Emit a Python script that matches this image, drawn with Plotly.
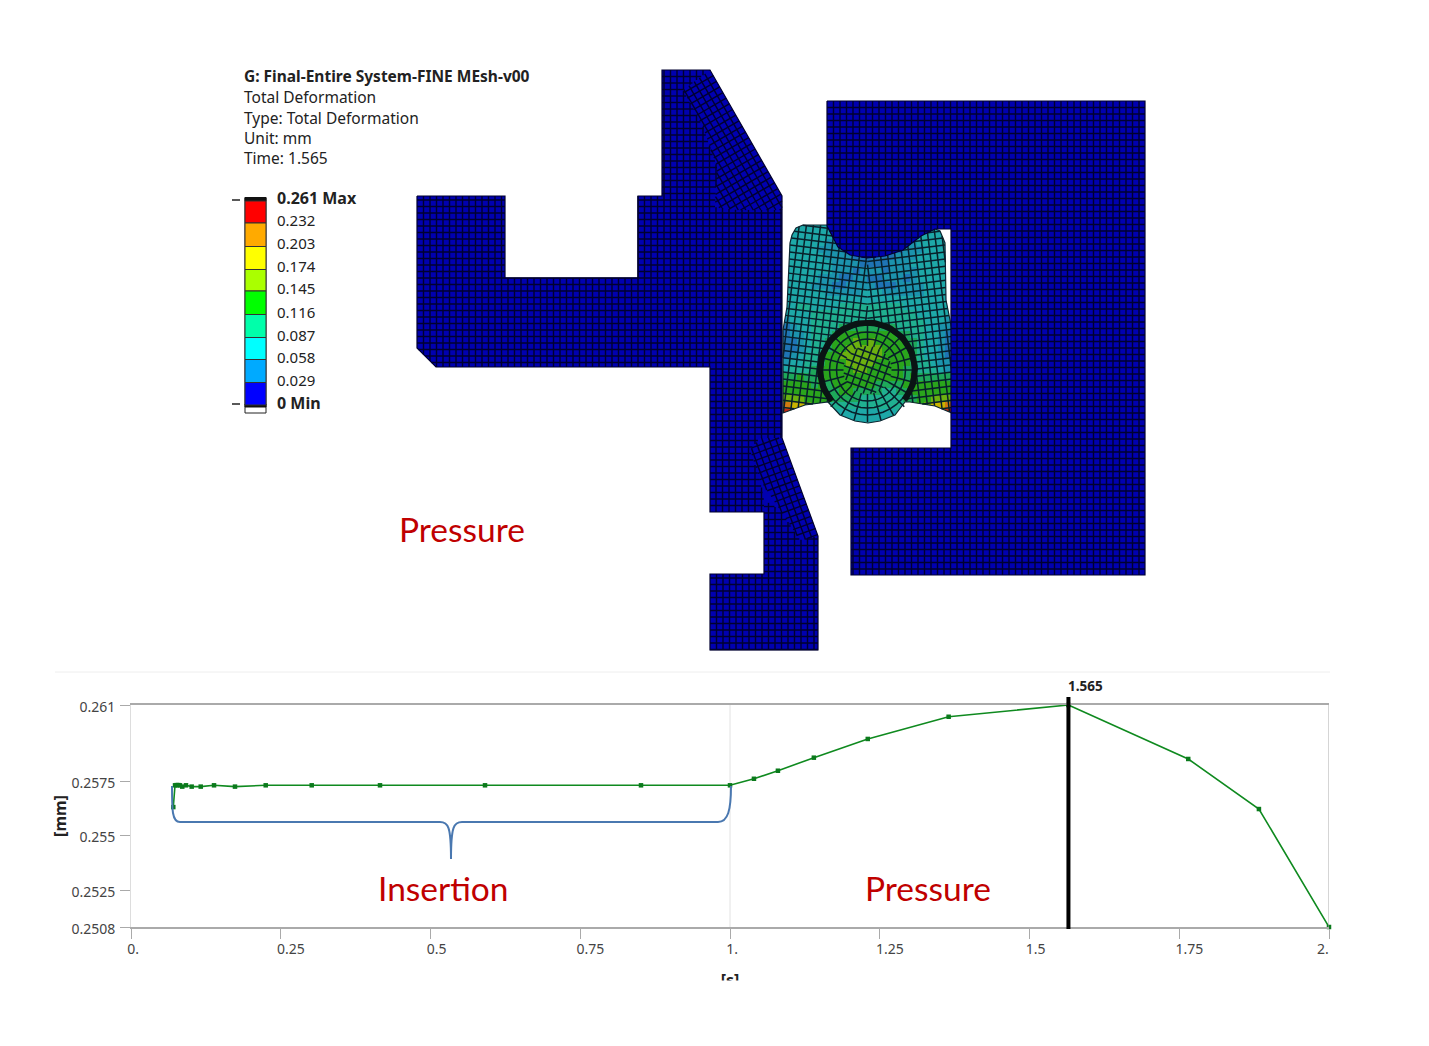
import numpy as np
import plotly.graph_objects as go

# --- chart data
time_s = [0.0706, 0.0735, 0.0763, 0.079, 0.0818, 0.0856, 0.0918, 0.1013, 0.1164, 0.1386, 0.1736,
          0.2249, 0.3017, 0.4157, 0.591, 0.8514, 1.0, 1.04, 1.08, 1.14, 1.23, 1.365, 1.565,
          1.765, 1.883, 2.0]
deform_mm = [0.25631, 0.25731, 0.25732, 0.25732, 0.25731, 0.25725, 0.25731, 0.25725, 0.25725,
             0.25731, 0.25725, 0.25731, 0.25731, 0.25731, 0.25731, 0.25731, 0.25731, 0.25761,
             0.25798, 0.25858, 0.25944, 0.26046, 0.261, 0.25852, 0.25622, 0.2508]
x_ticks = [0, 0.25, 0.5, 0.75, 1, 1.25, 1.5, 1.75, 2]
x_labels = ["0.", "0.25", "0.5", "0.75", "1.", "1.25", "1.5", "1.75", ""]
y_ticks = [0.2508, 0.2525, 0.255, 0.2575, 0.261]
y_labels = ["0.2508", "0.2525", "0.255", "0.2575", "0.261"]
cursor_time = 1.565

# --- legend of the contour plot
legend_labels = ["0.261 Max", "0.232", "0.203", "0.174", "0.145", "0.116", "0.087", "0.058", "0.029", "0 Min"]
legend_label_y = [198, 220, 243, 266, 288, 312, 335, 357, 380, 403]
legend_colors = ["#ff0000", "#ffaa00", "#ffff00", "#aaff00", "#00ff00", "#00ffaa", "#00ffff", "#00aaff", "#0000ff"]
legend_edges = [201, 223, 246.5, 269.5, 291, 314.5, 337.5, 359.5, 382.5, 405]
header_lines = ["G: Final-Entire System-FINE MEsh-v00", "Total Deformation", "Type: Total Deformation",
                "Unit: mm", "Time: 1.565"]
header_y = [76, 97, 118, 138, 158]

# --- geometry of the model, picture pixels
body_left = [(417, 196), (505, 196), (505, 278), (638, 278), (638, 196), (662, 196), (662, 70), (710, 70),
             (782, 196), (782, 438), (818, 536), (818, 650), (710, 650), (710, 574), (764, 574), (764, 512),
             (710, 512), (710, 367), (436, 367), (417, 348)]
body_right = [(827, 101), (1145, 101), (1145, 575), (851, 575), (851, 448), (951, 448), (951, 229), (935, 229),
              (921, 236), (903, 250), (885, 256), (867, 258), (850, 255), (838, 247), (827, 226)]
patch_main = [(417, 196), (505, 196), (505, 278), (638, 278), (638, 196), (662, 196), (662, 70), (710, 70),
              (683, 90), (703, 127), (717, 167), (715, 207), (737, 210), (782, 210), (782, 438), (760, 438),
              (750, 450), (760, 480), (764, 500), (764, 512), (710, 512), (710, 367), (436, 367), (417, 348)]
patch_wedge = [(710, 70), (782, 196), (782, 210), (737, 210), (715, 207), (717, 167), (703, 127), (683, 90)]
patch_lower = [(782, 438), (818, 536), (800, 540), (780, 510), (760, 480), (750, 450), (760, 438)]
patch_foot = [(710, 574), (764, 574), (764, 500), (780, 510), (800, 540), (818, 536), (818, 650), (710, 650)]
seal_outline = [(803, 225), (827, 225), (933, 228), (940, 231), (945, 243), (946, 300), (948, 310), (952, 330),
                (952, 413), (935, 406), (910, 402), (905, 402), (895, 415), (880, 421), (868, 423), (855, 421),
                (840, 415), (828, 402), (805, 405), (783, 413), (783, 330), (787, 307), (790, 243), (792, 235),
                (796, 228)]
# colour index of each seal cell
seal_cells = [
    "333333332222222223333333",
    "333333322222211222333333",
    "333333222221111122233333",
    "333332222211111112223333",
    "333333222211111122233333",
    "333333322221111222333333",
    "333333322212221222233333",
    "333332221122112221233333",
    "333322211222211122223333",
    "333333222223332222223333",
    "333333333333333333333333",
    "334433334444444443333333",
    "333344444444444444433333",
    "233344444444444444443332",
    "123344445555555544443322",
    "122344456666666655443321",
    "112344566676766665543321",
    "112344566777776666543321",
    "123445667777776666543321",
    "233445666777766666544322",
    "344456666677666665544432",
    "556556666666666665655555",
    "666656566666655556666666",
    "666666556655554455666666",
    "777666655554444445566777",
    "988766444444444444667889",
    "098774433333333344477890",
    "333333333333333333333333",
]
seal_palette = ["#c42a10", "#1f74b5", "#1c93ad", "#1ea8a8", "#20b090", "#1ea85a", "#2aa51c", "#6cb010",
                "#c8b400", "#d07a10"]


def mesh_lines(poly, pitch, angle=0.0):
    # clip a square grid, turned by angle, to a polygon
    a = np.radians(angle)
    rot = np.array([[np.cos(a), -np.sin(a)], [np.sin(a), np.cos(a)]])
    pts = np.array(poly, dtype=float) @ rot
    xs, ys = [], []
    for axis in (0, 1):
        u, v = pts[:, axis], pts[:, 1 - axis]
        for c in np.arange(u.min() + pitch, u.max(), pitch):
            hits = []
            for i in range(len(pts)):
                j = (i + 1) % len(pts)
                if (u[i] <= c) != (u[j] <= c):
                    hits.append(v[i] + (c - u[i]) / (u[j] - u[i]) * (v[j] - v[i]))
            hits.sort()
            for p, q in zip(hits[0::2], hits[1::2]):
                seg = np.array([[c, p], [c, q]]) if axis == 0 else np.array([[p, c], [q, c]])
                seg = seg @ rot.T
                xs += [seg[0, 0], seg[1, 0], None]
                ys += [seg[0, 1], seg[1, 1], None]
    return xs, ys


def closed(poly):
    return [p[0] for p in poly] + [poly[0][0]], [p[1] for p in poly] + [poly[0][1]]


fig = go.Figure()

# lower chart
fig.add_trace(go.Scatter(x=time_s, y=deform_mm, mode="lines+markers", cliponaxis=False,
                         line=dict(color="#0f8a1f", width=1.6),
                         marker=dict(symbol="square", size=4.5, color="#0b7a1c")))

# seal contour cells
z = [[int(ch) for ch in row] for row in seal_cells]
steps = []
for i, col in enumerate(seal_palette):
    steps += [[i / 10, col], [(i + 1) / 10, col]]
fig.add_trace(go.Heatmap(z=z, x0=786.5, dx=7.04, y0=228.5, dy=7.07, zmin=0, zmax=9.999, colorscale=steps,
                         showscale=False, xaxis="x2", yaxis="y2", hoverinfo="skip"))

# white keyhole round the seal, trims the cells to the outline
frame = [(770, 215), (965, 215), (965, 432), (770, 432), (770, 215)]
mask = frame + [seal_outline[0]] + seal_outline[::-1] + [frame[0]]
fig.add_trace(go.Scatter(x=[p[0] for p in mask], y=[p[1] for p in mask], mode="none", fill="toself",
                         fillcolor="#ffffff", xaxis="x2", yaxis="y2", hoverinfo="skip"))

# seal mesh, two halves round the ring and a polar mesh inside it
centre = (867.5, 370.0)
ring_r = 47.5


def ring_points(a0, a1):
    return [(centre[0] + ring_r * np.cos(np.radians(t)), centre[1] + ring_r * np.sin(np.radians(t)))
            for t in np.linspace(a0, a1, 20)]


seal_left = [(867.5, 226), (803, 225), (796, 228), (792, 235), (790, 243), (787, 307), (783, 330), (783, 413),
             (805, 405), (828, 402)] + ring_points(139, 270)
seal_right = [(867.5, 226), (933, 228), (940, 231), (945, 243), (946, 300), (948, 310), (952, 330), (952, 413),
              (935, 406), (910, 402)] + ring_points(41, -90)
sx, sy = mesh_lines(seal_left, 7.05, 7)
rx, ry = mesh_lines(seal_right, 7.05, -7)
sx, sy = sx + rx, sy + ry
th = np.radians(np.arange(0, 361, 10))
inner = [(centre[0] + 24 * np.cos(t), centre[1] + 24 * np.sin(t)) for t in th]
ix, iy = mesh_lines(inner, 7.0, 20)
sx, sy = sx + ix, sy + iy
for r in (31, 38, 45):
    sx += list(centre[0] + r * np.cos(th)) + [None]
    sy += list(centre[1] + r * np.sin(th)) + [None]
for deg in range(0, 360, 15):
    t = np.radians(deg)
    r_out = 52 if 45 <= deg <= 135 else ring_r
    sx += [centre[0] + 24 * np.cos(t), centre[0] + r_out * np.cos(t), None]
    sy += [centre[1] + 24 * np.sin(t), centre[1] + r_out * np.sin(t), None]
fig.add_trace(go.Scatter(x=sx, y=sy, mode="lines", line=dict(color="#08202a", width=1.5), connectgaps=False,
                         xaxis="x2", yaxis="y2", hoverinfo="skip"))
ox, oy = closed(seal_outline)
fig.add_trace(go.Scatter(x=ox, y=oy, mode="lines", line=dict(color="#0c2630", width=1.2),
                         xaxis="x2", yaxis="y2", hoverinfo="skip"))
arc = np.radians(np.arange(139, 402, 4))
fig.add_trace(go.Scatter(x=centre[0] + ring_r * np.cos(arc), y=centre[1] + ring_r * np.sin(arc), mode="lines",
                         line=dict(color="#0a1414", width=6), xaxis="x2", yaxis="y2", hoverinfo="skip"))

# solid bodies with their mesh
for outline in (body_left, body_right):
    bx, by = closed(outline)
    fig.add_trace(go.Scatter(x=bx, y=by, mode="lines", fill="toself", fillcolor="#0000b0",
                             line=dict(color="#000030", width=1.2), xaxis="x2", yaxis="y2", hoverinfo="skip"))
mx, my = [], []
for patch, pitch, angle in [(patch_main, 6.5, 0), (patch_wedge, 6.5, 60), (patch_lower, 6.5, 70),
                            (patch_foot, 6.5, 0), (body_right, 6.5, 0)]:
    px, py = mesh_lines(patch, pitch, angle)
    mx += px
    my += py
fig.add_trace(go.Scatter(x=mx, y=my, mode="lines", line=dict(color="#000030", width=1.4),
                         xaxis="x2", yaxis="y2", hoverinfo="skip"))

shapes = [
    dict(type="line", xref="x2", yref="y2", x0=55, x1=1330, y0=672, y1=672, line=dict(color="#eeeeee", width=1)),
    dict(type="line", xref="x", yref="paper", x0=1, x1=1, y0=119 / 1046, y1=341 / 1046,
         line=dict(color="#e2e2e2", width=1), layer="below"),
    dict(type="line", xref="x", yref="paper", x0=2, x1=2, y0=119 / 1046, y1=341 / 1046,
         line=dict(color="#aaaaaa", width=1)),
    # time cursor, runs a little above the plot
    dict(type="line", xref="x", yref="y2", x0=cursor_time, x1=cursor_time, y0=697, y1=929,
         line=dict(color="#000000", width=4)),
    dict(type="path", xref="x2", yref="y2",
         path="M 172,786 C 172,810 172,822 180,822 L 440,822 C 448,822 451,826 451,859 "
              "C 451,826 454,822 462,822 L 718,822 C 728,822 731,810 731,786",
         line=dict(color="#4a78b0", width=2)),
    # contour legend
    dict(type="rect", xref="x2", yref="y2", x0=245, x1=266, y0=197.5, y1=413,
         fillcolor="#ffffff", line=dict(color="#222222", width=1)),
    dict(type="rect", xref="x2", yref="y2", x0=245, x1=266, y0=197.5, y1=201,
         fillcolor="#111111", line=dict(color="#111111", width=1)),
    dict(type="rect", xref="x2", yref="y2", x0=245, x1=266, y0=404, y1=407,
         fillcolor="#111111", line=dict(color="#111111", width=1)),
    dict(type="line", xref="x2", yref="y2", x0=232, x1=240, y0=200, y1=200, line=dict(color="#222222", width=1.5)),
    dict(type="line", xref="x2", yref="y2", x0=232, x1=240, y0=404, y1=404, line=dict(color="#222222", width=1.5)),
]
for col, y0, y1 in zip(legend_colors, legend_edges[:-1], legend_edges[1:]):
    shapes.append(dict(type="rect", xref="x2", yref="y2", x0=245, x1=266, y0=y0, y1=y1, fillcolor=col,
                       line=dict(color="#333333", width=1)))

annotations = []


def label(text, x, y, size, color="#222222", font="Noto Sans", anchor="left"):
    annotations.append(dict(text=text, x=x, y=y, xref="x2", yref="y2", xanchor=anchor, yanchor="middle",
                            showarrow=False, font=dict(family=font, size=size, color=color)))


for i, (line, y) in enumerate(zip(header_lines, header_y)):
    label("<b>%s</b>" % line if i == 0 else line, 242, y, 15.5)
for text, y in zip(legend_labels, legend_label_y):
    if "Max" in text or "Min" in text:
        label("<b>%s</b>" % text, 275, y - 0.5, 16)
    else:
        label(text, 275, y - 0.5, 15)
label("Pressure", 397, 529, 33.5, "#c00000", "Lato")
label("Insertion", 375.5, 888, 33.5, "#c00000", "Lato")
label("Pressure", 863, 888, 33.5, "#c00000", "Lato")
label("<b>1.565</b>", 1066, 685.5, 13.5)
# last x label sits left of its tick, the others to the right
label("2.", 1331, 948.5, 14, "#444444", anchor="right")
# the screenshot cuts the x axis title off here
annotations.append(dict(text=" ", x=731, y=993, xref="x2", yref="y2", width=90, height=22, showarrow=False,
                        bgcolor="#ffffff"))

fig.update_layout(
    width=1429, height=1046, margin=dict(l=0, r=0, t=0, b=0, autoexpand=False), showlegend=False,
    paper_bgcolor="#ffffff", plot_bgcolor="rgba(0,0,0,0)", font=dict(family="Noto Sans", size=14, color="#444444"),
    shapes=shapes, annotations=annotations,
    xaxis=dict(domain=[131 / 1429, 1329 / 1429], range=[0, 2], tickvals=x_ticks, ticktext=x_labels,
               ticks="outside", ticklen=10, tickcolor="#aaaaaa", ticklabelposition="outside right",
               ticklabelstandoff=8, ticklabelshift=-5,
               showgrid=False, zeroline=False, showline=True, linecolor="#aaaaaa", linewidth=1.5, mirror=True,
               title=dict(text="<b>[s]</b>", font=dict(size=16, color="#222222"), standoff=18)),
    yaxis=dict(domain=[119 / 1046, 341 / 1046], range=[0.2508, 0.261], tickvals=y_ticks, ticktext=y_labels,
               ticks="outside", ticklen=10, tickcolor="#aaaaaa", ticklabelstandoff=2, ticklabelshift=2,
               showgrid=False, zeroline=False, showline=True, linecolor="#dddddd", linewidth=1,
               title=dict(text="<b>[mm]</b>", font=dict(size=16, color="#222222"), standoff=0)),
    xaxis2=dict(domain=[0, 1], range=[0, 1429], visible=False, anchor="y2", fixedrange=True),
    yaxis2=dict(domain=[0, 1], range=[1046, 0], visible=False, anchor="x2", fixedrange=True),
)

fig.write_html("out.html", config=dict(displayModeBar=False),
               post_script="document.body.style.margin='0';document.body.style.overflow='hidden';")
